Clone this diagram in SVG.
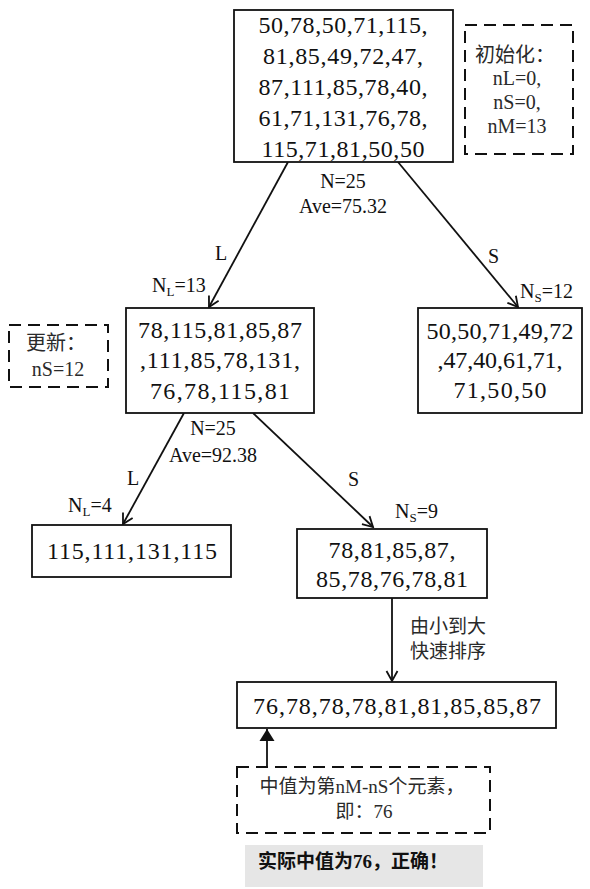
<svg xmlns="http://www.w3.org/2000/svg" width="590" height="889" viewBox="0 0 590 889">
<style>
  text { font-family: "Liberation Serif", "Noto Sans CJK SC", serif; fill: #111; }
  .box { fill: #fff; stroke: #111; stroke-width: 1.8; }
  .dash { fill: #fff; stroke: #111; stroke-width: 2; stroke-dasharray: 12 7; }
  .num { font-size: 24px; text-anchor: middle; }
  .note { font-size: 20px; text-anchor: middle; fill: #2a2a2a; }
  .lbl { font-size: 20px; }
  .mid { text-anchor: middle; }
  .sub { font-size: 13px; }
  .conn { stroke: #111; stroke-width: 1.8; fill: none; }
</style>
<defs>
  <marker id="open" viewBox="-11 -7 13 14" refX="0" refY="0" markerWidth="13" markerHeight="14" markerUnits="userSpaceOnUse" orient="auto">
    <path d="M-10,-5.5 L0,0 L-10,5.5" fill="none" stroke="#111" stroke-width="1.8"/>
  </marker>
  <marker id="solid" viewBox="-13 -8 14 16" refX="0" refY="0" markerWidth="14" markerHeight="16" markerUnits="userSpaceOnUse" orient="auto">
    <path d="M-12,-7.5 L0,0 L-12,7.5 Z" fill="#111"/>
  </marker>
</defs>

<g id="connectors">
  <line class="conn" x1="288" y1="162" x2="209" y2="307" marker-end="url(#open)"/>
  <line class="conn" x1="398" y1="162" x2="518" y2="307" marker-end="url(#open)"/>
  <line class="conn" x1="184" y1="413" x2="123" y2="524" marker-end="url(#open)"/>
  <line class="conn" x1="253" y1="413" x2="373" y2="527" marker-end="url(#open)"/>
  <line class="conn" x1="392" y1="598" x2="392" y2="681" marker-end="url(#open)"/>
  <line class="conn" x1="267" y1="772" x2="267" y2="729" marker-end="url(#solid)"/>
  <text class="lbl mid" x="343" y="188">N=25</text>
  <text class="lbl mid" x="343" y="213">Ave=75.32</text>
  <text class="lbl" x="215" y="260">L</text>
  <text class="lbl" x="488" y="263">S</text>
  <text class="lbl" x="152" y="292">N<tspan class="sub" dy="4">L</tspan><tspan dy="-4">=13</tspan></text>
  <text class="lbl" x="520" y="298">N<tspan class="sub" dy="4">S</tspan><tspan dy="-4">=12</tspan></text>
  <text class="lbl mid" x="213" y="435">N=25</text>
  <text class="lbl mid" x="213" y="462">Ave=92.38</text>
  <text class="lbl" x="127" y="485">L</text>
  <text class="lbl" x="348" y="486">S</text>
  <text class="lbl" x="68" y="512">N<tspan class="sub" dy="4">L</tspan><tspan dy="-4">=4</tspan></text>
  <text class="lbl" x="395" y="518">N<tspan class="sub" dy="4">S</tspan><tspan dy="-4">=9</tspan></text>
  <text style="font-size:19px; fill:#2a2a2a" x="410" y="633">由小到大</text>
  <text style="font-size:19px; fill:#2a2a2a" x="410" y="658">快速排序</text>
</g>

<g id="root">
  <rect class="box" x="234" y="10" width="219" height="152"/>
  <text class="num" x="343" y="33" textLength="169" lengthAdjust="spacing">50,78,50,71,115,</text>
  <text class="num" x="343" y="64" textLength="160" lengthAdjust="spacing">81,85,49,72,47,</text>
  <text class="num" x="343" y="95" textLength="169" lengthAdjust="spacing">87,111,85,78,40,</text>
  <text class="num" x="343" y="126" textLength="169" lengthAdjust="spacing">61,71,131,76,78,</text>
  <text class="num" x="343" y="157" textLength="163" lengthAdjust="spacing">115,71,81,50,50</text>
</g>

<g id="init">
  <rect class="dash" x="465" y="25" width="108" height="129"/>
  <text class="note" x="515" y="62">初始化：</text>
  <text class="note" x="517" y="85">nL=0,</text>
  <text class="note" x="517" y="109">nS=0,</text>
  <text class="note" x="517" y="133">nM=13</text>
</g>

<g id="large1">
  <rect class="box" x="126" y="308" width="188" height="105"/>
  <text class="num" x="220" y="338" textLength="164" lengthAdjust="spacing">78,115,81,85,87</text>
  <text class="num" x="220" y="368" textLength="160" lengthAdjust="spacing">,111,85,78,131,</text>
  <text class="num" x="220" y="399" textLength="140" lengthAdjust="spacing">76,78,115,81</text>
</g>

<g id="update">
  <rect class="dash" x="9" y="325" width="99" height="62"/>
  <text class="note" x="56" y="350">更新：</text>
  <text class="note" x="58" y="376">nS=12</text>
</g>

<g id="small1">
  <rect class="box" x="418" y="308" width="164" height="105"/>
  <text class="num" x="500" y="339" textLength="147" lengthAdjust="spacing">50,50,71,49,72</text>
  <text class="num" x="500" y="368" textLength="125" lengthAdjust="spacing">,47,40,61,71,</text>
  <text class="num" x="500" y="398" textLength="93" lengthAdjust="spacing">71,50,50</text>
</g>

<g id="large2">
  <rect class="box" x="32" y="525" width="199" height="52"/>
  <text class="num" x="132" y="559" textLength="170" lengthAdjust="spacing">115,111,131,115</text>
</g>

<g id="small2">
  <rect class="box" x="297" y="529" width="190" height="69"/>
  <text class="num" x="392" y="558" textLength="127" lengthAdjust="spacing">78,81,85,87,</text>
  <text class="num" x="392" y="587" textLength="152" lengthAdjust="spacing">85,78,76,78,81</text>
</g>

<g id="sorted">
  <rect class="box" x="237" y="682" width="319" height="46"/>
  <text class="num" x="397" y="714" textLength="288" lengthAdjust="spacing">76,78,78,78,81,81,85,85,87</text>
</g>

<g id="median-note">
  <rect class="dash" x="237" y="767" width="253" height="66"/>
  <text class="note" x="362" y="793" style="font-size:19px">中值为第nM-nS个元素，</text>
  <text class="note" x="364" y="818" style="font-size:19px">即：76</text>
</g>

<g id="result">
  <rect x="245" y="845" width="238" height="42" fill="#e6e6e6"/>
  <text x="258" y="868" style="font-size:19px; font-weight:bold">实际中值为76，正确！</text>
</g>
</svg>
